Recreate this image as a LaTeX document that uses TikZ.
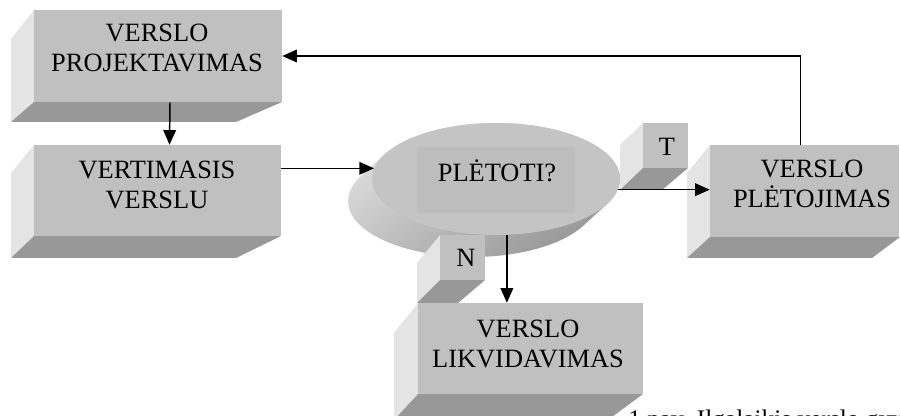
\documentclass[tikz,border=0pt]{standalone}
\usepackage{fontspec}
\setmainfont{Liberation Serif}
\usetikzlibrary{arrows.meta,calc,fit,shapes.geometric}

\definecolor{frontgray}{RGB}{192,192,192}
\definecolor{sidegray}{RGB}{228,228,228}
\definecolor{basegray}{RGB}{152,152,152}
\definecolor{ovalgray}{RGB}{196,196,196}
\definecolor{boxgray}{RGB}{189,189,189}
\definecolor{rimlight}{RGB}{222,222,222}
\definecolor{rimdark}{RGB}{150,150,150}

\tikzset{
  front/.style={fill=frontgray, draw=none, inner sep=0pt},
  side/.style={fill=sidegray, draw=none},
  base/.style={fill=basegray, draw=none},
  label/.style={font=\fontsize{19.8pt}{22.5pt}\selectfont, align=center, inner sep=0pt},
  arr/.style={draw=black, line width=1.1pt, -{Triangle[length=11pt,width=9.5pt]}},
}

\begin{document}
\begin{tikzpicture}[x=0.75pt,y=-0.75pt]
\useasboundingbox (0,0) rectangle (900,416);
\clip (0,0) rectangle (900,416);

% --- VERSLO PROJEKTAVIMAS block
\fill[side] (34,10) -- (11,39) -- (11,122) -- (34,102) -- cycle;
\fill[base] (34,102) -- (282,102) -- (236,122) -- (11,122) -- cycle;
\node[front, fit={(34,10) (282,102)}] (projF) {};
\node[label] (projT) at (157,48) {VERSLO\\PROJEKTAVIMAS};

% --- VERTIMASIS VERSLU block
\fill[side] (34,145) -- (11,173) -- (11,258) -- (34,236) -- cycle;
\fill[base] (34,236) -- (281,236) -- (236,258) -- (11,258) -- cycle;
\node[front, fit={(34,145) (281,236)}] (vertF) {};
\node[label] (vertT) at (157,185) {VERTIMASIS\\VERSLU};

% --- VERSLO PLĖTOJIMAS block
\fill[side] (710,145) -- (687,173) -- (687,258) -- (710,237) -- cycle;
\fill[base] (710,237) -- (900,237) -- (872,258) -- (687,258) -- cycle;
\node[front, fit={(710,145) (899,237)}] (devF) {};
\node[label] (devT) at (812,184) {VERSLO\\PLĖTOJIMAS};

% --- VERSLO LIKVIDAVIMAS block
\fill[side] (418,303) -- (394,333) -- (394,420) -- (418,394) -- cycle;
\fill[base] (418,394) -- (643,394) -- (608,420) -- (394,420) -- cycle;
\node[front, fit={(418,303) (643,394)}] (likF) {};
\node[label] (likT) at (528,344) {VERSLO\\LIKVIDAVIMAS};

% --- decision oval with extruded rim
\shade[top color=rimlight, bottom color=rimdark, shading angle=35]
  \foreach \t in {0,0.05,...,1.001} {($(472,201)!\t!(496,179)$) ellipse [x radius=124, y radius=56]};
\node[ellipse, fill=ovalgray, draw=none, inner sep=0pt,
      minimum width=186pt, minimum height=84pt] (plet) at (496,179) {};
\node[fill=boxgray, draw=none, inner sep=0pt, fit={(417,147) (575,213)}] (pletR) {};
\node[label, anchor=base] (pletT) at (497,182) {PLĖTOTI?};

% --- small answer tags
\fill[side] (643,123) -- (620,145) -- (620,190) -- (643,168) -- cycle;
\fill[base] (643,168) -- (688,168) -- (662,190) -- (620,190) -- cycle;
\node[front, fit={(643,123) (688,168)}] (yesF) {};
\node[label] (yesT) at (667,147) {T};

\fill[side] (440,235) -- (417,263) -- (417,303) -- (440,280) -- cycle;
\fill[base] (440,280) -- (485,280) -- (458,303) -- (417,303) -- cycle;
\node[front, fit={(440,235) (485,280)}] (noF) {};
\node[label] (noT) at (466,258) {N};

% --- connectors
\draw[arr] ($(projF.south)+(12,0)$) -- ($(vertF.north)+(12,0)$);
\draw[arr] (vertF.east |- plet.175) -- (plet.175);
\draw[arr] (plet.-5) -- (plet.-5 -| devF.west);
\draw[arr] (plet.-79) -- (plet.-79 |- likF.north);
\draw[arr] ($(devF.north)+(-4,0)$) |- (projF.east);

% --- caption
\node[font=\fontsize{19pt}{22pt}\selectfont, anchor=base west, inner sep=0pt]
  (cap) at (628,428) {1 pav. Ilgalaikis verslo gyva};
\end{tikzpicture}
\end{document}
